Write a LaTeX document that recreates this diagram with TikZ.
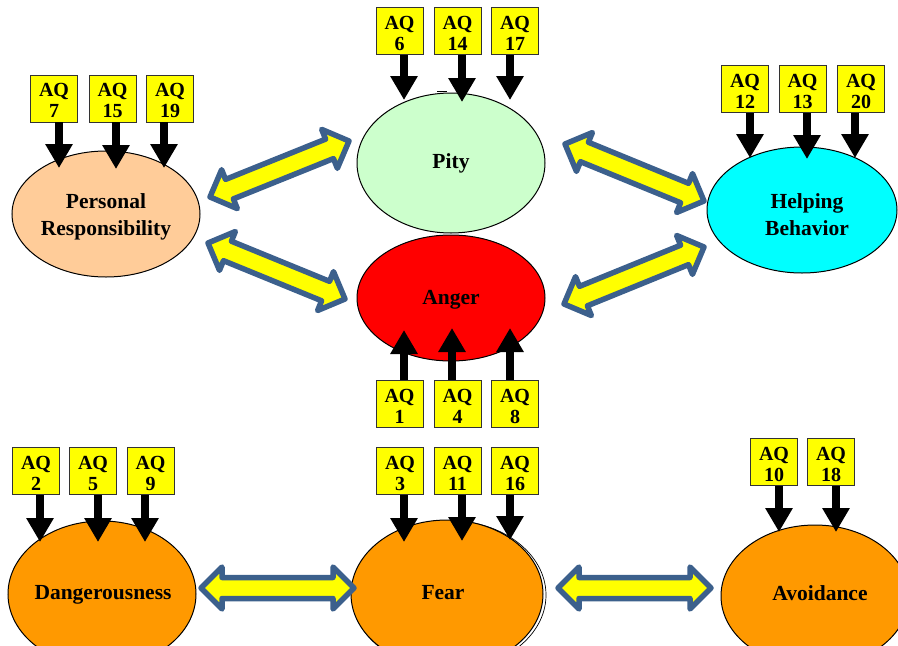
\documentclass[tikz,border=0pt]{standalone}
\usepackage{fontspec}
\setmainfont{Liberation Serif}
\usetikzlibrary{arrows.meta,calc,shapes.geometric}
\definecolor{peach}{RGB}{255,204,153}
\definecolor{pitygreen}{RGB}{204,255,204}
\definecolor{helpcyan}{RGB}{0,255,255}
\definecolor{angerred}{RGB}{255,0,0}
\definecolor{fearorange}{RGB}{255,153,0}
\definecolor{boxyellow}{RGB}{255,255,0}
\definecolor{arrowblue}{RGB}{60,96,140}
% block double arrow between two named coordinates
\newcommand\blockarrow[2]{%
  \draw[blockarr] (#1)
    -- ($(#1)!21pt!(#2)!21pt!90:(#2)$)
    -- ($(#1)!21pt!(#2)!10.5pt!90:(#2)$)
    -- ($(#2)!21pt!(#1)!10.5pt!-90:(#1)$)
    -- ($(#2)!21pt!(#1)!21pt!-90:(#1)$)
    -- (#2)
    -- ($(#2)!21pt!(#1)!21pt!90:(#1)$)
    -- ($(#2)!21pt!(#1)!10.5pt!90:(#1)$)
    -- ($(#1)!21pt!(#2)!10.5pt!-90:(#2)$)
    -- ($(#1)!21pt!(#2)!21pt!-90:(#2)$)
    -- cycle;}
\begin{document}
\begin{tikzpicture}[x=1pt,y=-1pt,
  ell/.style={ellipse, draw=black, line width=1pt, inner sep=0pt},
  lbl/.style={inner sep=0pt, align=center, font=\bfseries\fontsize{21.5}{27}\selectfont},
  aqbox/.style={draw=black!80, fill=boxyellow, line width=0.8pt, minimum width=47pt,
    minimum height=47pt, inner sep=0pt},
  aqtext/.style={inner sep=0pt, align=center, font=\bfseries\fontsize{20}{21}\selectfont},
  aqarrow/.style={line width=7.5pt, -{Triangle[width=26pt,length=24pt]}},
  blockarr/.style={draw=arrowblue, fill=boxyellow, line width=5.5pt, line join=round}]
\useasboundingbox (0,0) rectangle (898,646);
\clip (0,0) rectangle (898,646);

% ellipses
\node[ell, fill=peach, minimum width=188pt, minimum height=126pt] (pr) at (106,214) {};
\node[ell, fill=pitygreen, minimum width=188pt, minimum height=140pt] (pity) at (451,163) {};
\node[ell, fill=helpcyan, minimum width=190pt, minimum height=126pt] (help) at (802,210) {};
\node[ell, fill=angerred, minimum width=188pt, minimum height=126pt] (anger) at (451,298) {};
\node[ell, fill=fearorange, minimum width=188pt, minimum height=146pt] (dang) at (102,594) {};
\draw[line width=0.7pt] (449,595) ellipse [x radius=97, y radius=74.5];
\node[ell, fill=fearorange, minimum width=192pt, minimum height=148pt] (fear) at (447,594) {};
\node[ell, fill=fearorange, minimum width=188pt, minimum height=142pt] (avoid) at (815,596) {};

% labels
\node[lbl] (prT) at (106,217) {Personal\\Responsibility};
\node[lbl, anchor=base] (pityT) at (451,168) {Pity};
\node[lbl] (helpT) at (807,214.5) {Helping\\Behavior};
\node[lbl, anchor=base] (angerT) at (451,304) {Anger};
\node[lbl, anchor=base] (dangT) at (103,599) {Dangerousness};
\node[lbl, anchor=base] (fearT) at (443,599) {Fear};
\node[lbl, anchor=base] (avoidT) at (820,600) {Avoidance};

% block double arrows
\coordinate (prP) at (210,197);  \coordinate (pityL) at (349,141);
\coordinate (prA) at (208,243);  \coordinate (angerL) at (345,299);
\coordinate (pityR) at (565,144); \coordinate (helpP) at (704,201);
\coordinate (angerR) at (564,304); \coordinate (helpA) at (704,247);
\coordinate (dangR) at (201,588); \coordinate (fearL) at (354,588);
\coordinate (fearR) at (558,588); \coordinate (avoidL) at (711,588);
\blockarrow{prP}{pityL}
\blockarrow{prA}{angerL}
\blockarrow{pityR}{helpP}
\blockarrow{angerR}{helpA}
\blockarrow{dangR}{fearL}
\blockarrow{fearR}{avoidL}

% small stray mark near Pity
\draw[line width=0.7pt] (437,91) -- (447,91);

% AQ boxes and arrows
\foreach \n/\bx/\by/\tx/\ty/\d in {
  7/54/98.5/59/168/south, 15/112.5/98.5/116/169/south, 19/170/98.5/164/168/south,
  6/399.5/31/404/100/south, 14/457.5/31/462/102/south, 17/515/31/510/100/south,
  12/745/89/750/158/south, 13/802.5/89/807/159/south, 20/861/89/855/158/south,
  1/399.5/404/404/330/north, 4/457.5/404/452/328/north, 8/515/404/510/328/north,
  2/36/471/40/542/south, 5/93/471/98/542/south, 9/150.5/471/145/542/south,
  3/400/471/404/542/south, 11/457.5/471/462/541/south, 16/515/471/510/540/south,
  10/774/462/779/532/south, 18/831/462/836/532/south}{
  \node[aqbox] (b\n) at (\bx,\by) {};
  \node[aqtext] (q\n) at ($(b\n.center)+(0,2)$) {AQ\\\n};
  \coordinate (t\n) at (\tx,\ty);
  \draw[aqarrow] (b\n.\d -| t\n) -- (t\n);
}
\end{tikzpicture}
\end{document}
